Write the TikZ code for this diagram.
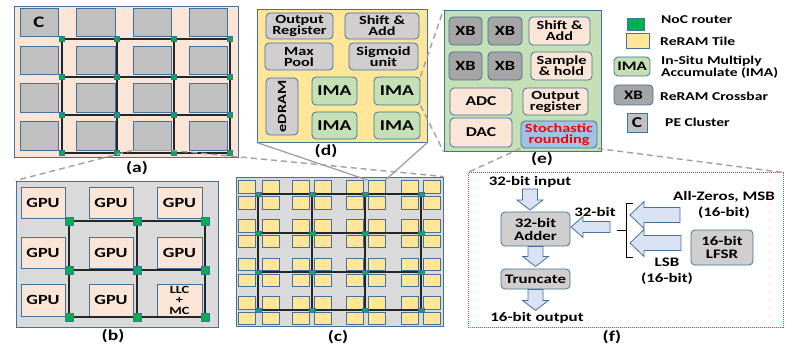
\documentclass[tikz,border=0pt]{standalone}
\usepackage{fontspec}
\setmainfont{Carlito}[FakeStretch=1.3]
\definecolor{peach}{HTML}{FBE5D6}
\definecolor{cgrey}{HTML}{C0C0C0}
\definecolor{lgrey}{HTML}{DADADA}
\definecolor{yel}{HTML}{FFE699}
\definecolor{grn}{HTML}{C5E0B4}
\definecolor{xbgrey}{HTML}{A5A5A5}
\definecolor{dgrey}{HTML}{D0CECE}
\definecolor{bord}{HTML}{41719C}
\definecolor{rgreen}{HTML}{00B050}
\definecolor{arrfill}{HTML}{DAE3F3}
\definecolor{stochc}{HTML}{9DC3E6}
\definecolor{zgrey}{HTML}{A0A0A0}
\definecolor{dotred}{HTML}{E8404A}
\pgfdeclarelayer{bg}\pgfdeclarelayer{mid}\pgfsetlayers{bg,mid,main}
\newcommand\fs[2]{\fontsize{#1}{#2}\selectfont\bfseries}
\newcommand\bx[7]{%
 \pgfmathsetmacro\bxw{#4-#2}\pgfmathsetmacro\bxh{#5-#3}%
 \pgfmathsetmacro\bxx{(#2+#4)/2}\pgfmathsetmacro\bxy{(#3+#5)/2}%
 \node[#6, minimum width=\bxw pt, minimum height=\bxh pt] (#1) at (\bxx,\bxy) {#7};}
\tikzset{
 frame/.style={draw=bord, line width=0.9pt, inner sep=0pt},
 sq/.style={draw=bord, line width=0.8pt, inner sep=0pt},
 rbox/.style={draw=bord, line width=0.8pt, rounded corners=4pt, inner sep=0pt, align=center},
 router/.style={draw=bord, fill=rgreen, inner sep=0pt, line width=0.4pt},
 mesh/.style={line width=2pt, black!85},
 zdash/.style={draw=zgrey, line width=1.4pt, dash pattern=on 6pt off 4pt},
 zline/.style={draw=zgrey, line width=1.3pt},
 lab/.style={font=\fs{15}{15}, inner sep=0pt},
 txt/.style={font=\fs{12}{12}, inner sep=0pt, align=center},
 arrowst/.style={draw=bord, fill=arrfill, line width=0.8pt},
 pics/barrow/.style args={#1/#2/#3/#4}{code={\draw[arrowst] (0,-#2/2) -- (#1-#4,-#2/2) -- (#1-#4,-#3/2) -- (#1,0) -- (#1-#4,#3/2) -- (#1-#4,#2/2) -- (0,#2/2) -- cycle;}}
}
\begin{document}
\begin{tikzpicture}[x=1pt,y=-1pt]
\useasboundingbox (0,0) rectangle (791,347);
% ---------------- (a)
\begin{pgfonlayer}{bg}
\bx{fa}{14}{6}{238}{157}{frame,fill=peach}{}
\foreach \i/\xa/\xb in {1/20/58,2/76/115,3/133/171,4/189/227}{
 \foreach \j/\ya/\yb in {1/8/36,2/46/74,3/83/112,4/121/150}{
  \bx{a\i\j}{\xa}{\ya}{\xb}{\yb}{sq,fill=cgrey}{}}}
\bx{fb}{16}{181}{218}{327}{frame,fill=lgrey}{}
\foreach \i/\xa/\xb in {1/21/65,2/89/133,3/157/202}{
 \foreach \j/\ya/\yb in {1/187/218,2/237/268,3/284/316}{
  \bx{b\i\j}{\xa}{\ya}{\xb}{\yb}{sq,fill=peach}{}}}
\bx{fc}{236}{177}{443}{326}{frame,fill=lgrey}{}
\foreach \i/\xa in {1/238.5,2/262,3/292,4/314.5,5/346,6/368,7/401,8/423}{
 \foreach \j/\ya in {1/180.5,2/196.5,3/219.5,4/235,5/258,6/274,7/296.5,8/312}{
  \pgfmathsetmacro\xe{\xa+17}\pgfmathsetmacro\ye{\ya+12.5}
  \bx{c\i\j}{\xa}{\ya}{\xe}{\ye}{sq,fill=yel}{}}}
\end{pgfonlayer}
\node[font=\fs{16}{16}] at (a11) {C};
\foreach \i/\x in {1/62,2/117,3/174,4/230}{
 \foreach \j/\y in {1/39,2/77,3/115,4/153}{
  \node[router, minimum size=5pt] (ra\i\j) at (\x,\y) {};}}
\begin{pgfonlayer}{mid}
\foreach \i in {1,2,3,4}{
 \draw[mesh] (ra\i1.center) -- (ra\i4.center);
 \draw[mesh] (ra1\i.center) -- (ra4\i.center);}
\end{pgfonlayer}
\node[lab] (la) at (137,168) {(a)};
% ---------------- (b)
\foreach \i/\j in {1/1,1/2,1/3,2/1,2/2,2/3,3/1,3/2}{
 \node[font=\fs{14}{14}] at (b\i\j) {GPU};}
\node[font=\fs{11}{10.5}, align=center, inner sep=0pt] at (b33) {LLC\\+\\MC};
\foreach \i/\x in {1/69,2/137,3/205}{
 \foreach \j/\y in {1/221,2/270,3/317}{
  \node[router, minimum size=7.5pt] (rb\i\j) at (\x,\y) {};}}
\begin{pgfonlayer}{mid}
\foreach \i in {1,2,3}{
 \draw[mesh] (rb\i1.center) -- (rb\i3.center);
 \draw[mesh] (rb1\i.center) -- (rb3\i.center);}
\end{pgfonlayer}
\node[lab] (lb) at (113,336) {(b)};
% ---------------- (c)
\foreach \i/\x in {1/258,2/312,3/365,4/421}{
 \foreach \j/\y in {1/194.5,2/233,3/272,4/310}{
  \node[router, minimum width=5.5pt, minimum height=4pt] (rc\i\j) at (\x,\y) {};}}
\begin{pgfonlayer}{mid}
\foreach \i in {1,2,3,4}{
 \draw[mesh] (rc\i1.center) -- (rc\i4.center);
 \draw[mesh] (rc1\i.center) -- (rc4\i.center);}
\end{pgfonlayer}
\node[lab] (lc) at (338,337) {(c)};
% ---------------- (d)
\begin{pgfonlayer}{bg}
\bx{fd}{257}{9}{427}{142}{frame,fill=yel}{}
\end{pgfonlayer}
\bx{oreg}{266}{13}{333}{39}{rbox,fill=dgrey,font=\fs{12.5}{11}}{Output\\Register}
\bx{shad}{345}{13}{419}{39}{rbox,fill=dgrey,font=\fs{12.5}{11}}{Shift \&\\Add}
\bx{mpool}{265}{43}{333}{70}{rbox,fill=dgrey,font=\fs{12.5}{11}}{Max\\Pool}
\bx{sigm}{349}{43}{418}{70}{rbox,fill=dgrey,font=\fs{12.5}{11}}{Sigmoid\\unit}
\bx{edram}{266}{78}{298}{135}{rbox,fill=dgrey}{}
\node[rotate=90, font=\fs{12.5}{12}] at (edram) {eDRAM};
\bx{ima1}{312}{77}{357}{105}{rbox,fill=grn,font=\fs{15}{15}}{IMA}
\bx{ima2}{374}{77}{420}{105}{rbox,fill=grn,font=\fs{15}{15}}{IMA}
\bx{ima3}{312}{112}{357}{139}{rbox,fill=grn,font=\fs{15}{15}}{IMA}
\bx{ima4}{374}{112}{420}{139}{rbox,fill=grn,font=\fs{15}{15}}{IMA}
\node[lab] (ld) at (326,151) {(d)};
% ---------------- (e)
\begin{pgfonlayer}{bg}
\bx{fe}{444}{10}{601}{151}{frame,fill=grn}{}
\end{pgfonlayer}
\bx{xb1}{449}{17}{482}{45}{rbox,fill=xbgrey,font=\fs{14}{14}}{XB}
\bx{xb2}{488}{17}{522}{45}{rbox,fill=xbgrey,font=\fs{14}{14}}{XB}
\bx{xb3}{449}{52}{482}{80}{rbox,fill=xbgrey,font=\fs{14}{14}}{XB}
\bx{xb4}{488}{52}{522}{80}{rbox,fill=xbgrey,font=\fs{14}{14}}{XB}
\bx{shad2}{529}{17}{590}{45}{rbox,fill=peach,font=\fs{12.5}{11}}{Shift \&\\Add}
\bx{samp}{531}{52}{592}{80}{rbox,fill=peach,font=\fs{12.5}{11}}{Sample\\\& hold}
\bx{adc}{450}{88}{512}{115}{rbox,fill=peach,font=\fs{13.5}{13}}{ADC}
\bx{oreg2}{523}{88}{588}{115}{rbox,fill=peach,font=\fs{12.5}{11}}{Output\\register}
\bx{dac}{450}{118}{512}{147}{rbox,fill=peach,font=\fs{13.5}{13}}{DAC}
\bx{stoch}{521}{121}{597}{148}{rbox,fill=stochc,text=red,font=\fs{12.5}{11}}{Stochastic\\rounding}
\node[lab] (le) at (542,159) {(e)};
% ---------------- legend
\bx{lg1}{627}{18}{644}{30}{sq,fill=rgreen}{}
\node[txt, anchor=west] at (661,20) {NoC router};
\bx{lg2}{626}{33}{649}{48}{sq,fill=yel}{}
\node[txt, anchor=west] at (660,41) {ReRAM Tile};
\bx{lg3}{614}{57}{650}{76}{rbox,fill=grn,font=\fs{13}{13}}{IMA}
\node[txt, anchor=west, align=left, font=\fs{12}{10}] at (661,67) {In-Situ Multiply\\Accumulate (IMA)};
\bx{lg4}{614}{85}{653}{105}{rbox,fill=xbgrey,font=\fs{13}{13}}{XB}
\node[txt, anchor=west] at (660,96) {ReRAM Crossbar};
\bx{lg5}{627}{113}{647}{132}{sq,fill=cgrey,font=\fs{15}{15}}{C};
\node[txt, anchor=west] at (665,122) {PE Cluster};
% ---------------- (f)
\bx{ff}{468}{173}{783}{327}{draw=dotred, dash pattern=on 1pt off 1pt, line width=1pt, inner sep=0pt}{}
\node[txt, font=\fs{13}{13}] (fin) at (530,182) {32-bit input};
\bx{adder}{501}{212}{570}{246}{rbox,fill=dgrey,font=\fs{13}{13}}{32-bit\\Adder}
\bx{trunc}{501}{269}{570}{289}{rbox,fill=dgrey,font=\fs{13}{13}}{Truncate}
\node[txt, font=\fs{13}{13}] (fout) at (537,318) {16-bit output};
\bx{lfsr}{691}{230}{753}{265}{rbox,fill=dgrey,font=\fs{13}{13}}{16-bit\\LFSR}
\node[txt, font=\fs{13}{13}] (t32) at (595,212) {32-bit};
\node[txt, font=\fs{13}{16}] (tmsb) at (724,205) {All-Zeros, MSB\\(16-bit)};
\node[txt, font=\fs{13}{16}] (tlsb) at (667,271) {LSB\\(16-bit)};
\coordinate (brtop) at (633,203);
\coordinate (brbot) at (633,257);
\coordinate (brmid) at (617,230);
\draw[line width=0.8pt] (brtop) -| (626,230) |- (brbot);
\draw[line width=0.8pt] (626,230) -- (brmid);
\pic[rotate=-90] at (530,189) {barrow=21/15/26/10};
\pic[rotate=-90] at (adder.south) {barrow=20/15/26/10};
\pic[rotate=-90] at (trunc.south) {barrow=21/15/26/10};
\pic[rotate=180] at (610,227) {barrow=39/11/21/12};
\pic[rotate=180] at (680,215) {barrow=50/15/27/14};
\pic[rotate=180] at (681,243) {barrow=51/15/27/14};
\node[lab] (lf) at (612,337) {(f)};
% ---------------- zoom lines
\draw[zline] (a34.south west) -- (a34.south east);
\draw[zdash] (a34.south west) -- (fb.north west);
\draw[zdash] (a34.south east) -- (fc.north east);
\draw[zline] (c61.north west) -- (fd.south west);
\draw[zline] (c61.north east) -- (fd.south east);
\draw[zdash] (ima2.north east) -- (fe.north west);
\draw[zdash] (ima2.south east) -- (fe.south west);
\draw[zdash] (stoch.south west) -- (ff.north west);
\draw[zdash] (stoch.south east) -- (ff.north east);
\end{tikzpicture}
\end{document}
